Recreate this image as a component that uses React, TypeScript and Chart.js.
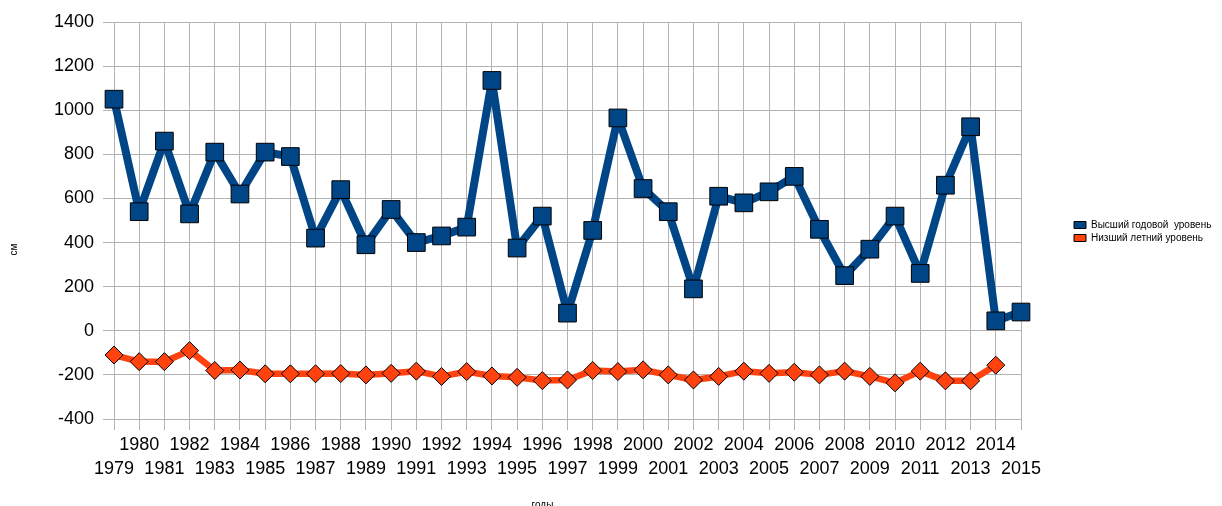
import React, { useEffect, useRef } from 'react';
import { Chart, registerables } from 'chart.js';

Chart.register(...registerables);

const years = [
  1979, 1980, 1981, 1982, 1983, 1984, 1985, 1986, 1987, 1988,
  1989, 1990, 1991, 1992, 1993, 1994, 1995, 1996, 1997, 1998,
  1999, 2000, 2001, 2002, 2003, 2004, 2005, 2006, 2007, 2008,
  2009, 2010, 2011, 2012, 2013, 2014, 2015,
];

const maxLevel = [
  1050, 540, 860, 530, 810, 620, 810, 790, 420, 640,
  390, 550, 400, 430, 470, 1135, 375, 520, 80, 455,
  965, 645, 540, 190, 610, 580, 630, 700, 460, 250,
  370, 520, 260, 660, 925, 45, 85,
];

const minLevel = [
  -110, -140, -140, -90, -180, -178, -195, -195, -195, -194,
  -200, -193, -183, -207, -185, -205, -211, -226, -223, -180,
  -185, -177, -200, -223, -207, -183, -193, -188, -200, -183,
  -207, -236, -183, -227, -227, -156, null,
];

const seriesNames = ['Высший годовой  уровень', 'Низший летний уровень'];
const xTitle = 'годы';
const yTitle = 'см';
const yMin = -400;
const yMax = 1400;
const yStep = 200;

const BLUE = '#004586';
const ORANGE = '#ff420e';
const GRID = '#b3b3b3';
const FONT = '"Liberation Sans", Arial, sans-serif';

const legendPlacer = {
  id: 'legendPlacer',
  beforeLayout(chart: any) {
    const lg = chart.legend;
    if (lg && !lg.__patched) {
      const orig = lg.fit.bind(lg);
      lg.fit = function () {
        orig();
        this.width = 201;
      };
      lg.__patched = true;
    }
  },
  afterLayout(chart: any) {
    const lg = chart.legend;
    if (!lg) return;
    lg.left = 1071;
    lg.right = 1222;
    lg.top = 217;
    lg.bottom = 506;
  },
};

export default function App() {
  const ref = useRef<HTMLCanvasElement>(null);

  useEffect(() => {
    document.body.style.margin = '0';
    const canvas = ref.current;
    if (!canvas) return;
    Chart.defaults.font.family = FONT;
    const colors = [BLUE, ORANGE];
    const chart = new Chart(canvas, {
      type: 'line',
      data: {
        labels: years.map(String),
        datasets: [
          {
            label: seriesNames[0],
            data: maxLevel,
            borderColor: BLUE,
            backgroundColor: BLUE,
            borderWidth: 8,
            borderJoinStyle: 'bevel',
            tension: 0,
            pointStyle: 'rect',
            pointRadius: 12.5,
            pointBackgroundColor: BLUE,
            pointBorderColor: '#000',
            pointBorderWidth: 1,
            clip: false,
          },
          {
            label: seriesNames[1],
            data: minLevel,
            borderColor: ORANGE,
            backgroundColor: ORANGE,
            borderWidth: 6.5,
            borderJoinStyle: 'bevel',
            tension: 0,
            pointStyle: 'rectRot',
            pointRadius: 9,
            pointBackgroundColor: ORANGE,
            pointBorderColor: '#000',
            pointBorderWidth: 1,
            clip: false,
          },
        ],
      },
      options: {
        responsive: false,
        animation: false,
        layout: { padding: { left: 0, right: 0, top: 22, bottom: 0 } },
        plugins: {
          tooltip: { enabled: false },
          legend: {
            position: 'right',
            align: 'start',
            labels: {
              boxWidth: 12,
              boxHeight: 7,
              padding: 3,
              color: '#000',
              font: { size: 10, family: FONT },
              generateLabels: (c: any) =>
                (Chart.defaults as any).plugins.legend.labels
                  .generateLabels(c)
                  .map((it: any, i: number) => ({
                    ...it,
                    fillStyle: colors[i],
                    strokeStyle: '#000',
                    lineWidth: 1,
                  })),
            },
          },
        },
        scales: {
          x: {
            type: 'category',
            offset: false,
            grid: { color: GRID, lineWidth: 1, tickLength: 11, drawTicks: true },
            border: { display: true, color: GRID },
            ticks: {
              autoSkip: false,
              maxRotation: 0,
              minRotation: 0,
              padding: 4,
              color: '#000',
              font: { size: 18, lineHeight: 1.28, family: FONT },
              callback: (_v: any, i: number) => {
                const y = years[i];
                return y % 2 === 0 ? [String(y)] : ['', String(y)];
              },
            },
            title: {
              display: true,
              text: xTitle + ' '.repeat(18),
              color: '#000',
              font: { size: 10, family: FONT },
              padding: { top: 0, bottom: -5 },
            },
            afterFit: (s: any) => {
              s.height = 87;
            },
          },
          y: {
            min: yMin,
            max: yMax,
            grid: { color: GRID, lineWidth: 1, tickLength: 11 },
            border: { display: true, color: GRID },
            ticks: {
              stepSize: yStep,
              padding: 9,
              color: '#000',
              font: { size: 18, family: FONT },
              callback: (v: any) => String(v),
            },
            title: {
              display: true,
              text: yTitle + ' '.repeat(21),
              color: '#000',
              font: { size: 10, family: FONT },
              padding: { top: 8, bottom: 0 },
            },
            afterFit: (s: any) => {
              s.width = 114;
            },
          },
        },
      },
      plugins: [legendPlacer],
    } as any);
    return () => chart.destroy();
  }, []);

  return (
    <div style={{ width: 1222, height: 506 }}>
      <canvas ref={ref} width={1222} height={506} style={{ display: 'block' }} />
    </div>
  );
}
